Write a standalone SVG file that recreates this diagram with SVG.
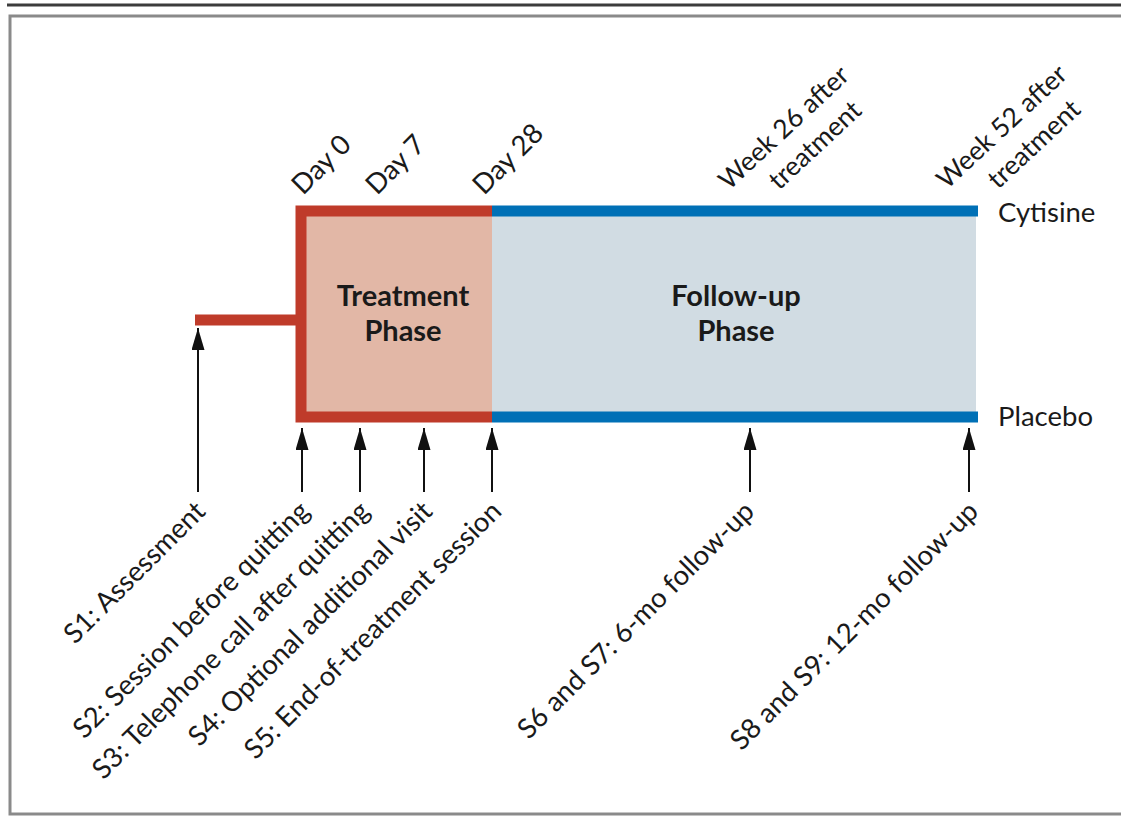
<svg xmlns="http://www.w3.org/2000/svg" width="1121" height="817" viewBox="0 0 1121 817">
<defs>
<style>
.t{font-family:Lato,"Open Sans","Liberation Sans",sans-serif;fill:#1a1a1a;font-size:27.5px}
.w{font-size:26.5px}
.b{font-family:Lato,"Open Sans","Liberation Sans",sans-serif;fill:#1a1a1a;font-size:29px;font-weight:bold;text-anchor:middle}
.red{stroke:#bf3b2a;fill:none;stroke-width:11;stroke-linejoin:miter;stroke-linecap:butt}
.blue{stroke:#0070b6;fill:none;stroke-width:11}
.arr{stroke:#111;stroke-width:2;fill:none;marker-end:url(#ah)}
.lbl{text-anchor:end}
</style>
<marker id="ah" markerUnits="userSpaceOnUse" markerWidth="22" markerHeight="13" refX="22" refY="6.5" orient="auto" viewBox="0 0 22 13">
<path d="M0,0 L22,6.5 L0,13 z" fill="#111"/>
</marker>
</defs>
<rect width="1121" height="817" fill="#fff"/>
<line x1="7" y1="5" x2="1121" y2="5" stroke="#3c3c3c" stroke-width="3"/>
<rect x="10" y="16" width="1130" height="798" fill="none" stroke="#8a8a8a" stroke-width="3"/>

<g id="treatment-phase">
<rect x="301" y="211" width="191" height="206" fill="#e2b7a6"/>
<path class="red" d="M492,211 H301 V417 H492"/>
<text class="b" x="403" y="306">Treatment</text>
<text class="b" x="403" y="341">Phase</text>
</g>

<g id="followup-phase">
<rect x="492" y="211" width="484" height="206" fill="#d1dce3"/>
<line class="blue" x1="492" y1="211" x2="978" y2="211"/>
<line class="blue" x1="492" y1="417" x2="978" y2="417"/>
<text class="b" x="736" y="306">Follow-up</text>
<text class="b" x="736" y="341">Phase</text>
</g>

<g id="assessment">
<line class="red" x1="195" y1="320" x2="301" y2="320"/>
</g>

<g id="arms">
<text class="t" x="998" y="222">Cytisine</text>
<text class="t" x="998" y="426">Placebo</text>
</g>

<g id="timepoints">
<text class="t" transform="translate(303,196) rotate(-45)">Day 0</text>
<text class="t" transform="translate(377,196) rotate(-45)">Day 7</text>
<text class="t" transform="translate(484,196) rotate(-45)">Day 28</text>
<text class="t w" transform="translate(729,191) rotate(-43)">Week 26 after</text>
<text class="t w" transform="translate(779,191) rotate(-43)">treatment</text>
<text class="t w" transform="translate(947,190) rotate(-43)">Week 52 after</text>
<text class="t w" transform="translate(998,190) rotate(-43)">treatment</text>
</g>

<g id="connectors">
<line class="arr" x1="198" y1="492" x2="198" y2="328"/>
<line class="arr" x1="302" y1="492" x2="302" y2="428"/>
<line class="arr" x1="360" y1="492" x2="360" y2="428"/>
<line class="arr" x1="424" y1="492" x2="424" y2="428"/>
<line class="arr" x1="492" y1="492" x2="492" y2="428"/>
<line class="arr" x1="750" y1="492" x2="750" y2="428"/>
<line class="arr" x1="969" y1="492" x2="969" y2="428"/>
</g>

<g id="sessions">
<text class="t lbl" transform="translate(207,513) rotate(-45)">S1: Assessment</text>
<text class="t lbl" transform="translate(311,513) rotate(-45)">S2: Session before quitting</text>
<text class="t lbl" transform="translate(371,513) rotate(-45)">S3: Telephone call after quitting</text>
<text class="t lbl" transform="translate(434,513) rotate(-45)">S4: Optional additional visit</text>
<text class="t lbl" transform="translate(503,513) rotate(-45)">S5: End-of-treatment session</text>
<text class="t lbl" transform="translate(756,513) rotate(-45)">S6 and S7: 6-mo follow-up</text>
<text class="t lbl" transform="translate(980,513) rotate(-45)">S8 and S9: 12-mo follow-up</text>
</g>
</svg>
